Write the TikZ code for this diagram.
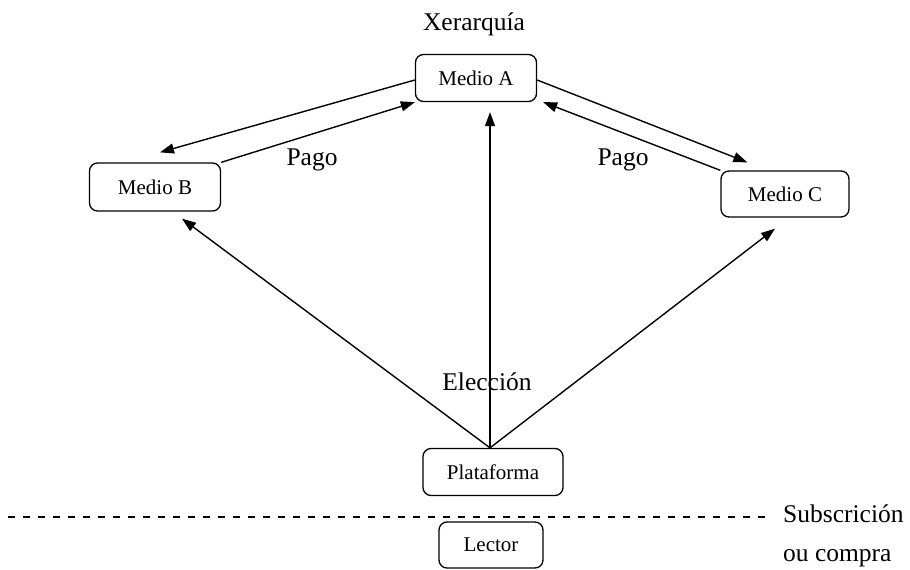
\documentclass[tikz,border=0pt]{standalone}
\usepackage{fontspec}
\setmainfont{Liberation Serif}
\usetikzlibrary{arrows.meta}
\begin{document}
\begin{tikzpicture}[x=1pt,y=-1pt,
  box/.style={draw, line width=1.3pt, rounded corners=8pt, inner sep=0pt,
    font=\fontsize{21}{25}\selectfont},
  lbl/.style={inner sep=0pt, font=\fontsize{25.5}{30}\selectfont},
  link/.style={line width=1.4pt, -{Triangle[length=14pt,width=10pt]}}]
\useasboundingbox (0,0) rectangle (910,570);

% boxes
\node[box, minimum width=121pt, minimum height=47pt] (ma) at (476,78) {Medio A};
\node[box, minimum width=131pt, minimum height=48pt] (mb) at (155,187) {Medio B};
\node[box, minimum width=128pt, minimum height=46pt] (mc) at (785,194) {Medio C};
\node[box, minimum width=140pt, minimum height=47pt] (pl) at (493,472) {Plataforma};
\node[box, minimum width=104pt, minimum height=46pt] (le) at (491,545) {Lector};

% labels
\node[lbl] (xer) at (474,24) {Xerarquía};
\node[lbl] (pagoL) at (312,160) {Pago};
\node[lbl] (pagoR) at (623,160) {Pago};
\node[lbl] (elec) at (487,382) {Elección};
\node[lbl, anchor=base west] (subs) at (783,522) {Subscrición};
\node[lbl, anchor=base west] (ouc) at (783,561) {ou compra};

% connectors between the media
\draw[link] ([yshift=-2pt]ma.west) -- ([xshift=5pt,yshift=10pt]mb.north);
\draw[link] (mb.north east) -- (ma.south west);
\draw[link] ([yshift=-2pt]ma.east) -- ([xshift=27pt,yshift=8pt]mc.north west);
\draw[link] (mc.north west) -- ([xshift=6pt]ma.south east);

% choice from the platform
\coordinate (src) at ([xshift=-3pt]pl.north);
\draw[link] (src) -- ([xshift=14pt,yshift=-10pt]ma.south);
\draw[link] (src) -- ([xshift=27pt,yshift=-7pt]mb.south);
\draw[link] (src) -- ([xshift=-10pt,yshift=-11pt]mc.south);

% separation line
\coordinate (dl) at (8,517);
\coordinate (dr) at (770,517);
\draw[line width=2pt, dash pattern=on 7pt off 8pt] (dl) -- (dr);
\end{tikzpicture}
\end{document}
